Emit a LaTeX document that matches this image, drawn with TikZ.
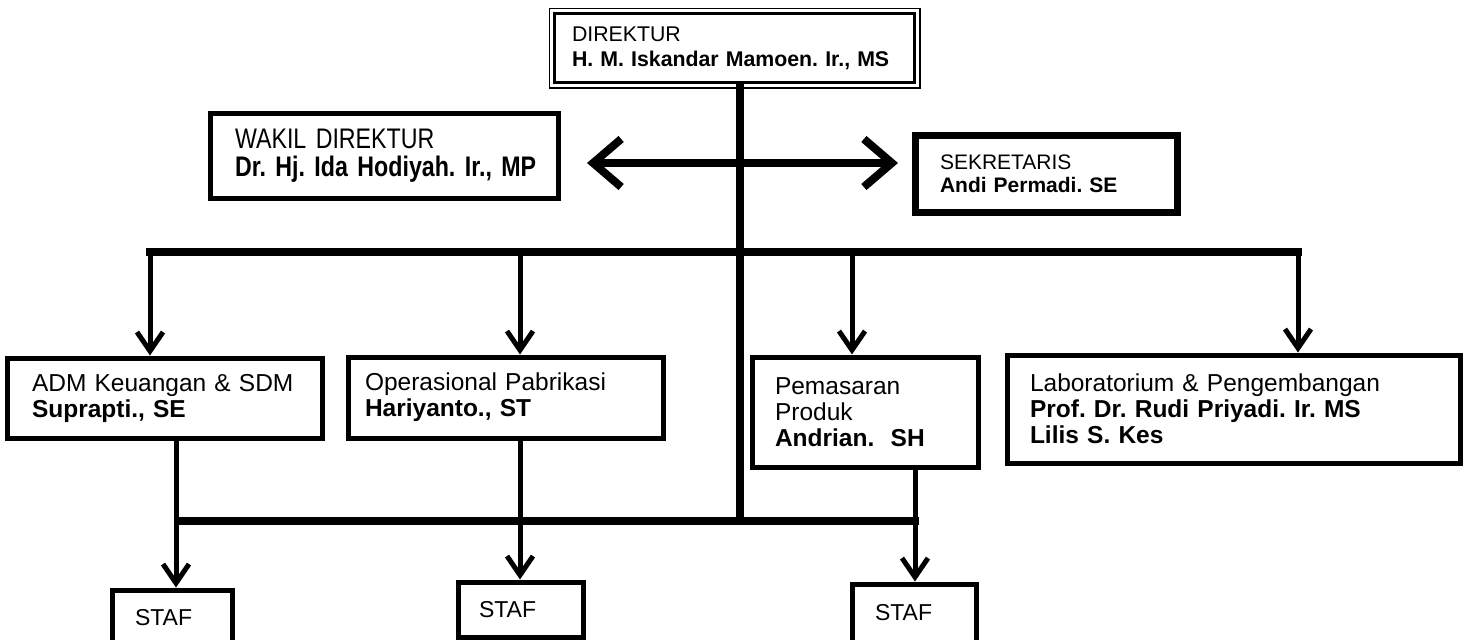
\documentclass[tikz,border=0pt]{standalone}
\usepackage{fontspec}
\setmainfont{Liberation Sans}
\newfontfamily\narrowfont[FakeStretch=0.82]{Liberation Sans}
\usetikzlibrary{arrows.meta}
\frenchspacing
\newcommand{\fTop}{\fontsize{21.3}{25}\selectfont}
\newcommand{\fSek}{\fontsize{21}{23}\selectfont}
\newcommand{\fWak}{\narrowfont\fontsize{28.3}{28}\selectfont}
\newcommand{\fLow}{\fontsize{24.5}{26}\selectfont}
\newcommand{\fStaf}{\fontsize{23}{26}\selectfont}
\begin{document}
\frenchspacing
\begin{tikzpicture}[x=1pt,y=-1pt,
  box/.style={draw, rectangle, line width=5pt, inner xsep=0pt, inner ysep=0pt, align=left},
  trunkline/.style={line width=8pt},
  busline/.style={line width=8pt, line cap=rect},
  dblarr/.style={line width=8pt, {Straight Barb[length=28pt,width=48pt]}-{Straight Barb[length=28pt,width=48pt]}},
  downarr/.style={line width=5pt, -{Straight Barb[length=19pt,width=26pt]}}
]
\useasboundingbox (0,0) rectangle (1465,640);
\clip (0,0) rectangle (1465,640);
\fill[white] (0,0) rectangle (1465,640);

% top
\node[box, line width=3.5pt, minimum width=360pt, minimum height=69pt, text width=360pt, font=\fTop] (dir) at (734.5,48)
  {\hspace*{17.5pt}DIREKTUR\\\hspace*{17.5pt}\textbf{H. M. Iskandar Mamoen. Ir., MS}};
\draw[line width=1.5pt] ([xshift=-3.5pt,yshift=3.5pt]dir.north west) rectangle ([xshift=3.5pt,yshift=-3.5pt]dir.south east);

\node[box, minimum width=348pt, minimum height=85pt, text width=348pt, font=\fWak] (wakil) at (384,155.5)
  {\hspace*{25pt}WAKIL DIREKTUR\\\hspace*{25pt}\textbf{Dr. Hj. Ida Hodiyah. Ir., MP}};

\node[box, line width=7pt, minimum width=262pt, minimum height=77pt, text width=262pt, font=\fSek] (sek) at (1046,173.5)
  {\hspace*{25pt}SEKRETARIS\\\hspace*{25pt}\textbf{Andi Permadi. SE}};

% departments
\node[box, minimum width=315pt, minimum height=80pt, text width=315pt, font=\fLow] (adm) at (164.5,398)
  {\hspace*{25pt}ADM Keuangan \& SDM\\\hspace*{25pt}\textbf{Suprapti., SE}};
\node[box, minimum width=315pt, minimum height=81pt, text width=315pt, font=\fLow] (op) at (505.5,397.5)
  {\hspace*{17pt}Operasional Pabrikasi\\\hspace*{17pt}\textbf{Hariyanto., ST}};
\node[box, minimum width=226pt, minimum height=110pt, text width=226pt, font=\fLow] (pem) at (865,412)
  {\hspace*{23pt}Pemasaran\\\hspace*{23pt}Produk\\\hspace*{23pt}\textbf{Andrian.~~SH}};
\node[box, minimum width=453pt, minimum height=108pt, text width=453pt, font=\fLow] (lab) at (1233.5,409)
  {\hspace*{23pt}Laboratorium \& Pengembangan\\\hspace*{23pt}\textbf{Prof. Dr. Rudi Priyadi. Ir. MS}\\\hspace*{23pt}\textbf{Lilis S. Kes}};

% staf
\node[box, minimum width=120pt, minimum height=56pt, text width=120pt, font=\fStaf] (staf1) at (172,618) {\hspace*{23pt}STAF};
\node[box, minimum width=125pt, minimum height=55pt, text width=125pt, font=\fStaf] (staf2) at (520.5,609.5) {\hspace*{21pt}STAF};
\node[box, minimum width=124pt, minimum height=58pt, text width=124pt, font=\fStaf] (staf3) at (914,613) {\hspace*{23pt}STAF};

% coordinates
\coordinate (t1) at (740,521);
\coordinate (al) at (587,163);
\coordinate (ar) at (898,163);
\coordinate (b1) at (150,252);
\coordinate (b2) at (520,252);
\coordinate (b3) at (852,252);
\coordinate (b4) at (1298,252);
\coordinate (s1) at (176,521);
\coordinate (s2) at (520,521);
\coordinate (s3) at (915,521);
\coordinate (sEnd) at (919,521);

% connectors
\draw[trunkline] (dir.south -| t1) -- (t1);
\draw[dblarr] (al) -- (ar);
\draw[busline] (b1) -- (b4);
\draw[downarr] (b1) -- (b1 |- adm.north);
\draw[downarr] (b2) -- (b2 |- op.north);
\draw[downarr] (b3) -- (b3 |- pem.north);
\draw[downarr] (b4) -- (b4 |- lab.north);
\draw[trunkline] ([xshift=-2pt]s1) -- (sEnd);
\draw[downarr] (s1 |- adm.south) -- (s1 |- staf1.north);
\draw[downarr] (s2 |- op.south) -- (s2 |- staf2.north);
\draw[downarr] (s3 |- pem.south) -- (s3 |- staf3.north);
\end{tikzpicture}
\end{document}
